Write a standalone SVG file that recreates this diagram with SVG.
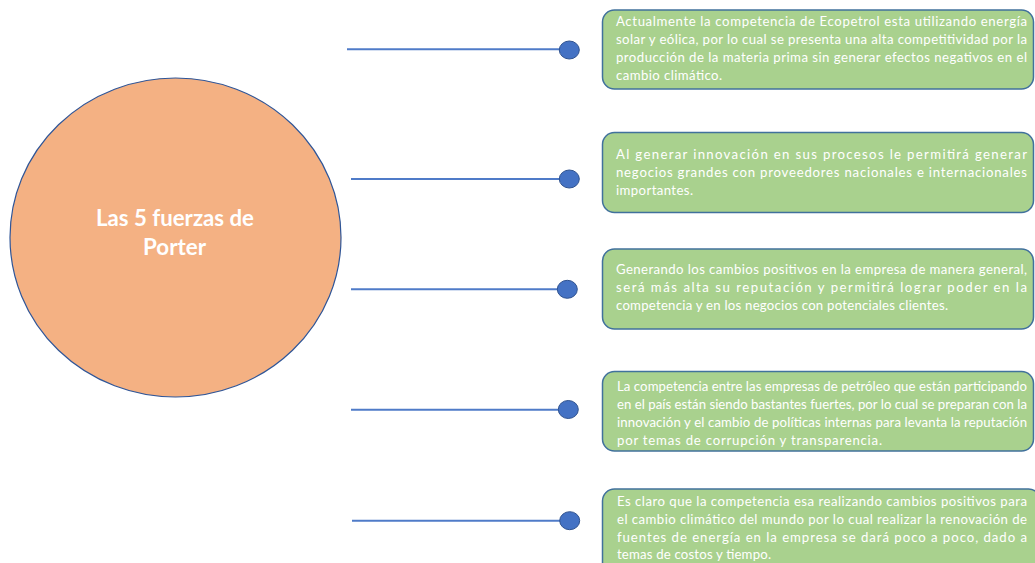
<svg xmlns="http://www.w3.org/2000/svg" width="1035" height="563" viewBox="0 0 1035 563">
  <style>
    .bg { fill: #ffffff; }
    .hub { fill: #F4B183; stroke: #2F5597; stroke-width: 1.2; }
    .hubtxt { font-family: Lato, "Liberation Sans", sans-serif; font-weight: bold; font-size: 22px; fill: #ffffff; }
    .box { fill: #A9D18E; stroke: #41719C; stroke-width: 1.5; }
    .txt { font-family: Lato, "Liberation Sans", sans-serif; font-size: 13.2px; fill: #ffffff; }
    .conn { stroke: #4F7BC8; stroke-width: 2; fill: none; }
    .dot { fill: #4472C4; stroke: #2F528F; stroke-width: 1; }
  </style>
  <rect class="bg" x="0" y="0" width="1035" height="563"/>

  <g id="hub">
    <ellipse class="hub" cx="175.5" cy="237.5" rx="165.5" ry="159.5"/>
    <text class="hubtxt" x="96" y="226" textLength="158" lengthAdjust="spacingAndGlyphs">Las 5 fuerzas de</text>
    <text class="hubtxt" x="143" y="255" textLength="63" lengthAdjust="spacingAndGlyphs">Porter</text>
  </g>

  <g id="connectors">
    <line class="conn" x1="347" y1="49.3" x2="569" y2="49.3"/>
    <ellipse class="dot" cx="569.3" cy="50" rx="10" ry="9"/>
    <line class="conn" x1="351" y1="179" x2="569" y2="179"/>
    <ellipse class="dot" cx="569.3" cy="179" rx="10" ry="9"/>
    <line class="conn" x1="351" y1="289.3" x2="567" y2="289.3"/>
    <ellipse class="dot" cx="567.3" cy="289.3" rx="10" ry="9"/>
    <line class="conn" x1="351" y1="409.7" x2="568" y2="409.7"/>
    <ellipse class="dot" cx="568.3" cy="409.5" rx="10" ry="9"/>
    <line class="conn" x1="352" y1="520.7" x2="569" y2="520.7"/>
    <ellipse class="dot" cx="569.7" cy="520.7" rx="10" ry="9"/>
  </g>

  <g id="box1">
    <rect class="box" x="602.5" y="10" width="431" height="79" rx="12" ry="12"/>
    <text class="txt" x="616" y="26" textLength="411" lengthAdjust="spacing">Actualmente la competencia de Ecopetrol esta utilizando energía</text>
    <text class="txt" x="616" y="44" textLength="411" lengthAdjust="spacing">solar y eólica, por lo cual se presenta una alta competitividad por la</text>
    <text class="txt" x="616" y="62" textLength="411" lengthAdjust="spacing">producción de la materia prima sin generar efectos negativos en el</text>
    <text class="txt" x="616" y="80" textLength="106" lengthAdjust="spacing">cambio climático.</text>
  </g>

  <g id="box2">
    <rect class="box" x="602.5" y="132.5" width="431" height="80" rx="12" ry="12"/>
    <text class="txt" x="616" y="158.5" textLength="411" lengthAdjust="spacing">Al generar innovación en sus procesos le permitirá generar</text>
    <text class="txt" x="616" y="176.5" textLength="411" lengthAdjust="spacing">negocios grandes con proveedores nacionales e internacionales</text>
    <text class="txt" x="616" y="194.5" textLength="77" lengthAdjust="spacing">importantes.</text>
  </g>

  <g id="box3">
    <rect class="box" x="602.5" y="249" width="431" height="80" rx="12" ry="12"/>
    <text class="txt" x="616" y="274" textLength="411" lengthAdjust="spacing">Generando los cambios positivos en la empresa de manera general,</text>
    <text class="txt" x="616" y="292" textLength="411" lengthAdjust="spacing">será más alta su reputación y permitirá lograr poder en la</text>
    <text class="txt" x="616" y="310" textLength="332" lengthAdjust="spacing">competencia y en los negocios con potenciales clientes.</text>
  </g>

  <g id="box4">
    <rect class="box" x="602.5" y="371.5" width="431" height="79.5" rx="12" ry="12"/>
    <text class="txt" x="617" y="391" textLength="410" lengthAdjust="spacing">La competencia entre las empresas de petróleo que están participando</text>
    <text class="txt" x="617" y="409" textLength="410" lengthAdjust="spacing">en el país están siendo bastantes fuertes, por lo cual se preparan con la</text>
    <text class="txt" x="617" y="427" textLength="410" lengthAdjust="spacing">innovación y el cambio de políticas internas para levanta la reputación</text>
    <text class="txt" x="617" y="445" textLength="265" lengthAdjust="spacing">por temas de corrupción y transparencia.</text>
  </g>

  <g id="box5">
    <rect class="box" x="602.5" y="489" width="438" height="95" rx="12" ry="12"/>
    <text class="txt" x="617" y="505.5" textLength="410" lengthAdjust="spacing">Es claro que la competencia esa realizando cambios positivos para</text>
    <text class="txt" x="617" y="523.5" textLength="410" lengthAdjust="spacing">el cambio climático del mundo por lo cual realizar la renovación de</text>
    <text class="txt" x="617" y="541.5" textLength="410" lengthAdjust="spacing">fuentes de energía en la empresa se dará poco a poco, dado a</text>
    <text class="txt" x="617" y="559" textLength="154" lengthAdjust="spacing">temas de costos y tiempo.</text>
  </g>
</svg>
